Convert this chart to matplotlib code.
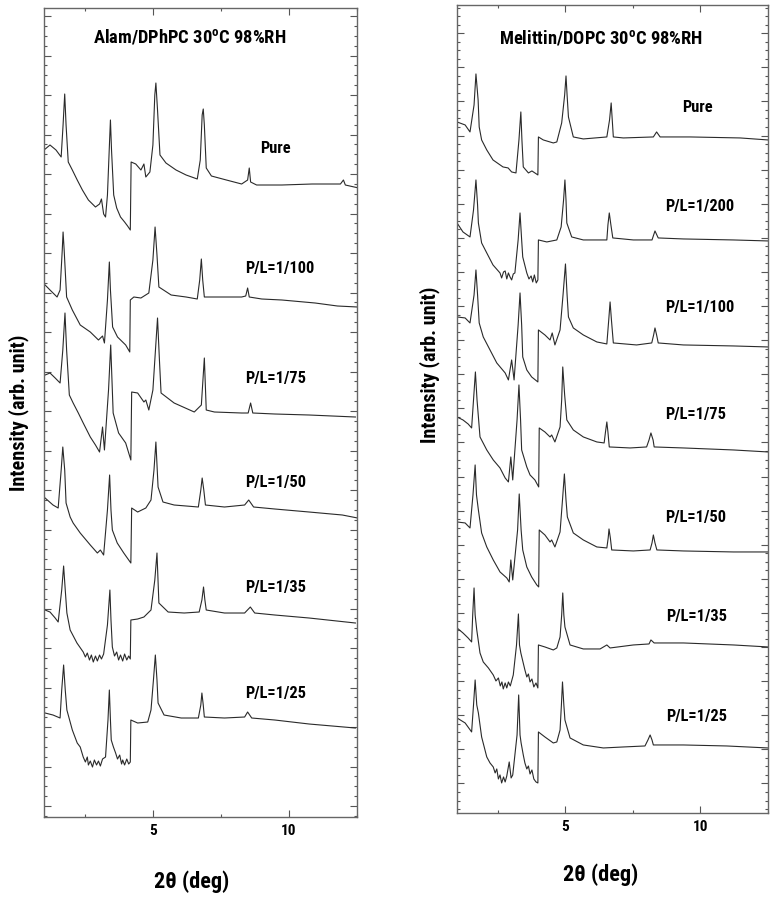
import numpy as np
import matplotlib
matplotlib.use("Agg")
import matplotlib.pyplot as plt
from matplotlib import font_manager
from matplotlib.ticker import MultipleLocator, FixedLocator, AutoMinorLocator

# narrow bold sans, close to the condensed Arial of the original
installed = {f.name for f in font_manager.fontManager.ttflist}
narrow = next((n for n in ['Roboto Condensed', 'IBM Plex Sans Condensed', 'Encode Sans Condensed']
               if n in installed), 'DejaVu Sans')
plt.rcParams['font.family'] = [narrow, 'DejaVu Sans']

# ---- left panel: Alamethicin / DPhPC (2theta in deg, intensity arb.) ----
alam_labels = ['Pure', 'P/L=1/100', 'P/L=1/75', 'P/L=1/50', 'P/L=1/35', 'P/L=1/25']

alam_pure_x = [1.00, 1.22, 1.44, 1.63, 1.70, 1.76, 1.81, 1.89, 2.04, 2.22, 2.41, 2.63, 2.89, 3.04, 3.11,
               3.19, 3.26, 3.33, 3.41, 3.44, 3.48, 3.56, 3.67, 3.81, 3.96, 4.07, 4.17, 4.20, 4.37, 4.56,
               4.67, 4.74, 4.89, 5.00, 5.07, 5.11, 5.17, 5.26, 5.48, 5.85, 6.22, 6.63, 6.74, 6.81, 6.85,
               6.89, 6.96, 7.15, 7.70, 8.26, 8.48, 8.54, 8.59, 8.81, 9.74, 10.85, 11.89, 12.00, 12.07, 12.56]
alam_pure_y = [667, 672, 667, 660, 692, 723, 692, 655, 647, 637, 627, 617, 610, 613, 618,
               603, 600, 622, 677, 697, 667, 622, 609, 600, 595, 591, 587, 655, 653, 647,
               653, 640, 645, 672, 722, 734, 707, 662, 654, 647, 642, 638, 657, 702, 708,
               692, 649, 641, 637, 633, 637, 649, 635, 632, 632, 633, 633, 637, 632, 629]

alam_100_x = [1.04, 1.22, 1.48, 1.59, 1.67, 1.70, 1.74, 1.83, 2.04, 2.33, 2.70, 3.00, 3.15, 3.22, 3.33,
              3.40, 3.44, 3.52, 3.70, 4.00, 4.15, 4.17, 4.30, 4.56, 4.85, 5.00, 5.08, 5.15, 5.22, 5.67,
              6.22, 6.63, 6.72, 6.78, 6.83, 6.89, 7.41, 8.26, 8.41, 8.48, 8.54, 9.00, 9.74, 10.96, 11.78, 12.52]
alam_100_y = [532, 527, 520, 527, 567, 585, 567, 520, 507, 492, 485, 477, 481, 474, 517,
              555, 527, 490, 480, 472, 465, 517, 520, 519, 524, 557, 590, 562, 530, 522,
              520, 518, 537, 558, 537, 520, 520, 520, 521, 529, 520, 518, 517, 514, 511, 510]

alam_75_x = [1.04, 1.22, 1.41, 1.59, 1.69, 1.77, 1.83, 1.93, 2.07, 2.26, 2.44, 2.70, 2.89, 3.04, 3.15,
             3.22, 3.37, 3.45, 3.54, 3.74, 4.00, 4.19, 4.22, 4.44, 4.67, 4.74, 4.85, 5.00, 5.17, 5.24,
             5.30, 5.78, 6.52, 6.78, 6.89, 6.96, 7.26, 8.26, 8.50, 8.59, 8.67, 9.48, 10.74, 12.44]
alam_75_y = [442, 444, 439, 434, 467, 504, 467, 422, 414, 404, 394, 380, 372, 365, 390,
             367, 427, 472, 404, 384, 374, 357, 425, 424, 415, 417, 407, 427, 499, 457,
             424, 414, 405, 412, 459, 407, 405, 404, 404, 414, 404, 403, 402, 400]

alam_50_x = [1.04, 1.33, 1.52, 1.63, 1.69, 1.76, 1.81, 1.96, 2.07, 2.33, 2.70, 2.96, 3.07, 3.19, 3.33,
             3.41, 3.46, 3.51, 3.69, 3.93, 4.19, 4.22, 4.44, 4.74, 4.93, 5.04, 5.11, 5.19, 5.37, 5.78,
             6.67, 6.76, 6.81, 6.87, 6.93, 7.63, 8.37, 8.52, 8.70, 9.48, 10.74, 11.96, 12.52]
alam_50_y = [319, 312, 309, 347, 370, 347, 314, 300, 294, 284, 272, 264, 267, 262, 307,
             342, 307, 287, 274, 264, 254, 309, 305, 309, 317, 347, 375, 330, 315, 312,
             310, 327, 339, 327, 312, 310, 312, 317, 310, 308, 305, 302, 299]

alam_35_x = [1.04, 1.22, 1.41, 1.52, 1.65, 1.72, 1.78, 1.84, 1.96, 2.21, 2.44, 2.52, 2.59, 2.67, 2.74,
             2.81, 2.89, 2.96, 3.04, 3.11, 3.19, 3.33, 3.42, 3.46, 3.51, 3.59, 3.67, 3.74, 3.81, 3.89,
             3.96, 4.04, 4.11, 4.17, 4.19, 4.44, 4.67, 4.93, 5.07, 5.15, 5.22, 5.56, 6.15, 6.70, 6.80,
             6.86, 6.91, 6.96, 7.63, 8.37, 8.58, 8.74, 9.48, 10.74, 12.44]
alam_35_y = [207, 205, 199, 195, 227, 251, 227, 204, 187, 174, 165, 160, 164, 157, 162,
             155, 161, 156, 162, 158, 163, 192, 227, 197, 170, 161, 165, 157, 162, 156,
             163, 157, 161, 158, 197, 198, 200, 207, 237, 264, 214, 205, 204, 205, 217,
             230, 217, 207, 204, 204, 210, 204, 202, 199, 194]

alam_25_x = [1.04, 1.33, 1.59, 1.65, 1.72, 1.78, 1.84, 2.04, 2.22, 2.33, 2.44, 2.52, 2.59, 2.63, 2.70,
             2.78, 2.85, 2.93, 3.00, 3.07, 3.15, 3.26, 3.35, 3.40, 3.44, 3.47, 3.55, 3.63, 3.70, 3.78,
             3.85, 3.89, 3.96, 4.04, 4.11, 4.17, 4.19, 4.44, 4.81, 4.93, 5.02, 5.09, 5.15, 5.19, 5.41,
             6.04, 6.67, 6.76, 6.80, 6.85, 6.89, 7.63, 8.37, 8.48, 8.63, 9.48, 10.74, 12.44]
alam_25_y = [104, 102, 99, 127, 152, 127, 107, 87, 74, 70, 60, 55, 60, 52, 56,
             50, 57, 52, 56, 51, 58, 60, 97, 127, 97, 77, 70, 64, 58, 62,
             53, 57, 52, 58, 53, 55, 97, 94, 95, 107, 137, 162, 137, 114, 102,
             99, 99, 112, 124, 112, 100, 99, 100, 105, 99, 97, 93, 89]

# ---- right panel: Melittin / DOPC ----
mel_labels = ['Pure', 'P/L=1/200', 'P/L=1/100', 'P/L=1/75', 'P/L=1/50', 'P/L=1/35', 'P/L=1/25']

mel_pure_x = [1.00, 1.30, 1.48, 1.63, 1.70, 1.78, 1.82, 1.91, 2.10, 2.33, 2.70, 2.89, 3.02, 3.18, 3.29,
              3.36, 3.40, 3.45, 3.64, 3.77, 3.99, 4.01, 4.19, 4.56, 4.69, 4.87, 4.98, 5.03, 5.07, 5.12,
              5.30, 5.67, 6.54, 6.64, 6.70, 6.74, 6.78, 7.15, 8.26, 8.38, 8.51, 9.62, 11.47, 12.50]
mel_pure_y = [691, 688, 681, 708, 739, 713, 686, 673, 663, 653, 646, 645, 641, 640, 673,
              701, 673, 646, 640, 642, 638, 676, 673, 670, 671, 690, 718, 737, 718, 696,
              676, 674, 676, 693, 710, 693, 676, 675, 676, 681, 676, 676, 675, 673]

mel_200_x = [1.00, 1.22, 1.48, 1.61, 1.70, 1.76, 1.79, 1.91, 2.10, 2.33, 2.59, 2.65, 2.72, 2.78, 2.84,
             2.90, 2.96, 3.02, 3.08, 3.14, 3.26, 3.33, 3.39, 3.43, 3.58, 3.66, 3.74, 3.80, 3.86, 3.93,
             3.99, 4.01, 4.32, 4.69, 4.85, 4.94, 4.99, 5.03, 5.06, 5.24, 5.67, 6.54, 6.58, 6.63, 6.69,
             6.76, 7.52, 8.21, 8.32, 8.44, 9.37, 11.22, 12.50]
mel_200_y = [590, 581, 576, 603, 633, 608, 590, 570, 560, 548, 540, 535, 541, 542, 534,
             540, 536, 533, 539, 540, 573, 600, 573, 556, 540, 534, 537, 531, 538, 530,
             533, 573, 571, 573, 586, 613, 633, 613, 590, 576, 573, 573, 588, 600, 588,
             575, 573, 573, 582, 575, 574, 573, 572]

mel_100_x = [1.00, 1.30, 1.48, 1.63, 1.70, 1.76, 1.82, 1.97, 2.22, 2.47, 2.78, 2.90, 3.02, 3.11, 3.26,
             3.33, 3.39, 3.43, 3.58, 3.76, 3.99, 4.01, 4.25, 4.44, 4.52, 4.62, 4.81, 4.92, 5.01, 5.07,
             5.12, 5.30, 5.67, 6.17, 6.54, 6.61, 6.66, 6.71, 6.78, 7.64, 8.20, 8.27, 8.32, 8.38, 8.44,
             9.37, 11.22, 12.50]
mel_100_y = [496, 495, 490, 518, 543, 518, 490, 476, 463, 450, 440, 433, 453, 433, 488,
             520, 488, 456, 443, 436, 431, 483, 478, 473, 480, 468, 483, 518, 549, 518,
             496, 485, 478, 471, 469, 493, 511, 493, 470, 468, 470, 478, 485, 478, 470,
             468, 467, 466]

mel_75_x = [1.00, 1.22, 1.41, 1.54, 1.61, 1.68, 1.74, 1.85, 2.10, 2.34, 2.59, 2.78, 2.90, 2.99, 3.06,
            3.22, 3.29, 3.35, 3.39, 3.58, 3.70, 3.88, 4.02, 4.04, 4.25, 4.44, 4.50, 4.62, 4.81, 4.87,
            4.91, 4.98, 5.06, 5.30, 5.67, 6.17, 6.44, 6.49, 6.54, 6.58, 6.63, 7.40, 8.01, 8.10, 8.17,
            8.25, 8.29, 9.37, 11.22, 12.50]
mel_75_y = [396, 393, 389, 385, 413, 441, 413, 376, 363, 353, 345, 335, 331, 356, 333,
            393, 428, 393, 363, 346, 338, 333, 326, 385, 381, 376, 378, 371, 386, 413,
            446, 418, 393, 383, 376, 371, 370, 381, 391, 381, 366, 365, 366, 373, 380,
            373, 366, 365, 363, 361]

mel_50_x = [1.00, 1.30, 1.48, 1.59, 1.67, 1.72, 1.79, 1.91, 2.10, 2.34, 2.59, 2.84, 2.93, 2.99, 3.06,
            3.24, 3.30, 3.37, 3.43, 3.58, 3.76, 3.95, 4.02, 4.04, 4.25, 4.44, 4.50, 4.62, 4.81, 4.90,
            4.97, 5.03, 5.08, 5.30, 5.67, 6.17, 6.54, 6.59, 6.62, 6.67, 6.72, 7.52, 8.14, 8.21, 8.26,
            8.32, 8.39, 9.37, 11.22, 12.50]
mel_50_y = [291, 290, 285, 318, 348, 318, 303, 280, 266, 253, 241, 235, 231, 253, 233,
            283, 319, 283, 263, 246, 236, 228, 226, 283, 278, 271, 273, 266, 281, 313,
            339, 313, 296, 280, 273, 266, 265, 275, 284, 275, 263, 262, 263, 270, 278,
            270, 263, 262, 261, 261]

mel_35_x = [1.00, 1.22, 1.41, 1.54, 1.58, 1.63, 1.67, 1.73, 1.85, 1.97, 2.16, 2.34, 2.44, 2.53, 2.60,
            2.66, 2.71, 2.78, 2.84, 2.90, 2.97, 3.08, 3.20, 3.27, 3.31, 3.36, 3.51, 3.58, 3.64, 3.70,
            3.77, 3.84, 3.92, 3.99, 4.01, 4.25, 4.56, 4.69, 4.81, 4.87, 4.91, 4.95, 4.99, 5.18, 5.67,
            6.29, 6.54, 6.66, 7.52, 8.10, 8.17, 8.29, 9.37, 11.22, 12.50]
mel_35_y = [185, 180, 175, 171, 198, 225, 198, 183, 160, 151, 145, 138, 132, 135, 127,
            131, 124, 130, 125, 131, 127, 138, 168, 199, 168, 160, 143, 136, 139, 131,
            134, 126, 130, 125, 168, 166, 163, 165, 176, 198, 220, 198, 186, 168, 164,
            164, 168, 165, 168, 169, 173, 170, 170, 168, 166]

mel_25_x = [1.00, 1.30, 1.54, 1.61, 1.67, 1.73, 1.79, 1.91, 2.10, 2.22, 2.34, 2.41, 2.47, 2.53, 2.59,
            2.65, 2.72, 2.78, 2.84, 2.93, 3.00, 3.06, 3.22, 3.28, 3.33, 3.37, 3.45, 3.51, 3.58, 3.64,
            3.70, 3.77, 3.84, 3.92, 3.99, 4.01, 4.25, 4.56, 4.69, 4.81, 4.86, 4.90, 4.95, 4.99, 5.18,
            5.67, 6.41, 7.15, 7.95, 8.06, 8.14, 8.21, 8.26, 9.37, 10.97, 12.50]
mel_25_y = [95, 90, 81, 108, 133, 108, 100, 76, 56, 50, 46, 40, 44, 34, 38,
            30, 36, 31, 37, 51, 35, 38, 78, 118, 78, 70, 58, 50, 44, 47,
            39, 43, 34, 31, 30, 81, 76, 70, 71, 83, 108, 131, 108, 93, 75,
            68, 65, 66, 67, 73, 78, 73, 68, 68, 67, 65]

alam_curves = [(alam_pure_x, alam_pure_y), (alam_100_x, alam_100_y), (alam_75_x, alam_75_y),
               (alam_50_x, alam_50_y), (alam_35_x, alam_35_y), (alam_25_x, alam_25_y)]
mel_curves = [(mel_pure_x, mel_pure_y), (mel_200_x, mel_200_y), (mel_100_x, mel_100_y),
              (mel_75_x, mel_75_y), (mel_50_x, mel_50_y), (mel_35_x, mel_35_y), (mel_25_x, mel_25_y)]

# where the sample names sit (data coords)
alam_label_pos = [(8.93, 669), (8.37, 549), (8.37, 439), (8.40, 335), (8.40, 230), (8.40, 124)]
mel_label_pos = [(9.32, 705), (8.69, 606), (8.69, 505), (8.69, 398), (8.69, 295), (8.75, 196), (8.75, 96)]

fig = plt.figure(figsize=(7.75, 8.99), dpi=100)
ax1 = fig.add_axes([0.0568, 0.0912, 0.4039, 0.8999])
ax2 = fig.add_axes([0.5897, 0.0957, 0.4013, 0.8988])


def style_panel(ax, ytop, ytick0, ystep, title, title_xy, ylab_xy, xlab_xy):
    ax.set_xlim(1, 12.5)
    ax.set_ylim(0, ytop)
    ax.xaxis.set_major_locator(MultipleLocator(5))
    ax.xaxis.set_minor_locator(MultipleLocator(2.5))
    ax.yaxis.set_major_locator(FixedLocator(np.arange(ytick0, ytop, ystep)))
    ax.yaxis.set_minor_locator(AutoMinorLocator(4))
    ax.tick_params(which='both', direction='in', top=True, right=True, labelleft=False,
                   color='#555555', width=0.8)
    ax.tick_params(which='major', length=5, labelsize=11, pad=5)
    ax.tick_params(which='minor', length=2.5)
    for lab in ax.get_xticklabels():
        lab.set_fontweight('bold')
    for sp in ax.spines.values():
        sp.set_color('#666666')
        sp.set_linewidth(1.0)
    ax.text(title_xy[0], title_xy[1], title, transform=ax.transAxes, ha='center', va='center',
            fontsize=13.3, fontweight='bold')
    ax.set_ylabel('Intensity (arb. unit)', fontsize=14.5, fontweight='bold')
    ax.yaxis.set_label_coords(*ylab_xy)
    ax.yaxis.label.set_verticalalignment('center')
    ax.set_xlabel('2\u03b8 (deg)', fontsize=16, fontweight='bold')
    ax.xaxis.set_label_coords(*xlab_xy)
    ax.xaxis.label.set_verticalalignment('center')


for (cx, cy) in alam_curves:
    ax1.plot(cx, cy, color='#2a2a2a', lw=0.8)
for name, (tx, ty) in zip(alam_labels, alam_label_pos):
    ax1.text(tx, ty, name, fontsize=11.8, fontweight='bold', ha='left', va='center')

for (cx, cy) in mel_curves:
    ax2.plot(cx, cy, color='#2a2a2a', lw=0.8)
for name, (tx, ty) in zip(mel_labels, mel_label_pos):
    ax2.text(tx, ty, name, fontsize=11.8, fontweight='bold', ha='left', va='center')

style_panel(ax1, 809, 11, 39.5, 'Alam/DPhPC 30$^\\mathregular{o}$C 98%RH',
            (0.465, 0.964), (-0.08, 0.50), (0.47, -0.08))
style_panel(ax2, 808, 29.5, 34.1, 'Melittin/DOPC 30$^\\mathregular{o}$C 98%RH',
            (0.463, 0.959), (-0.087, 0.555), (0.463, -0.077))

fig.savefig('out.png', dpi=100)
